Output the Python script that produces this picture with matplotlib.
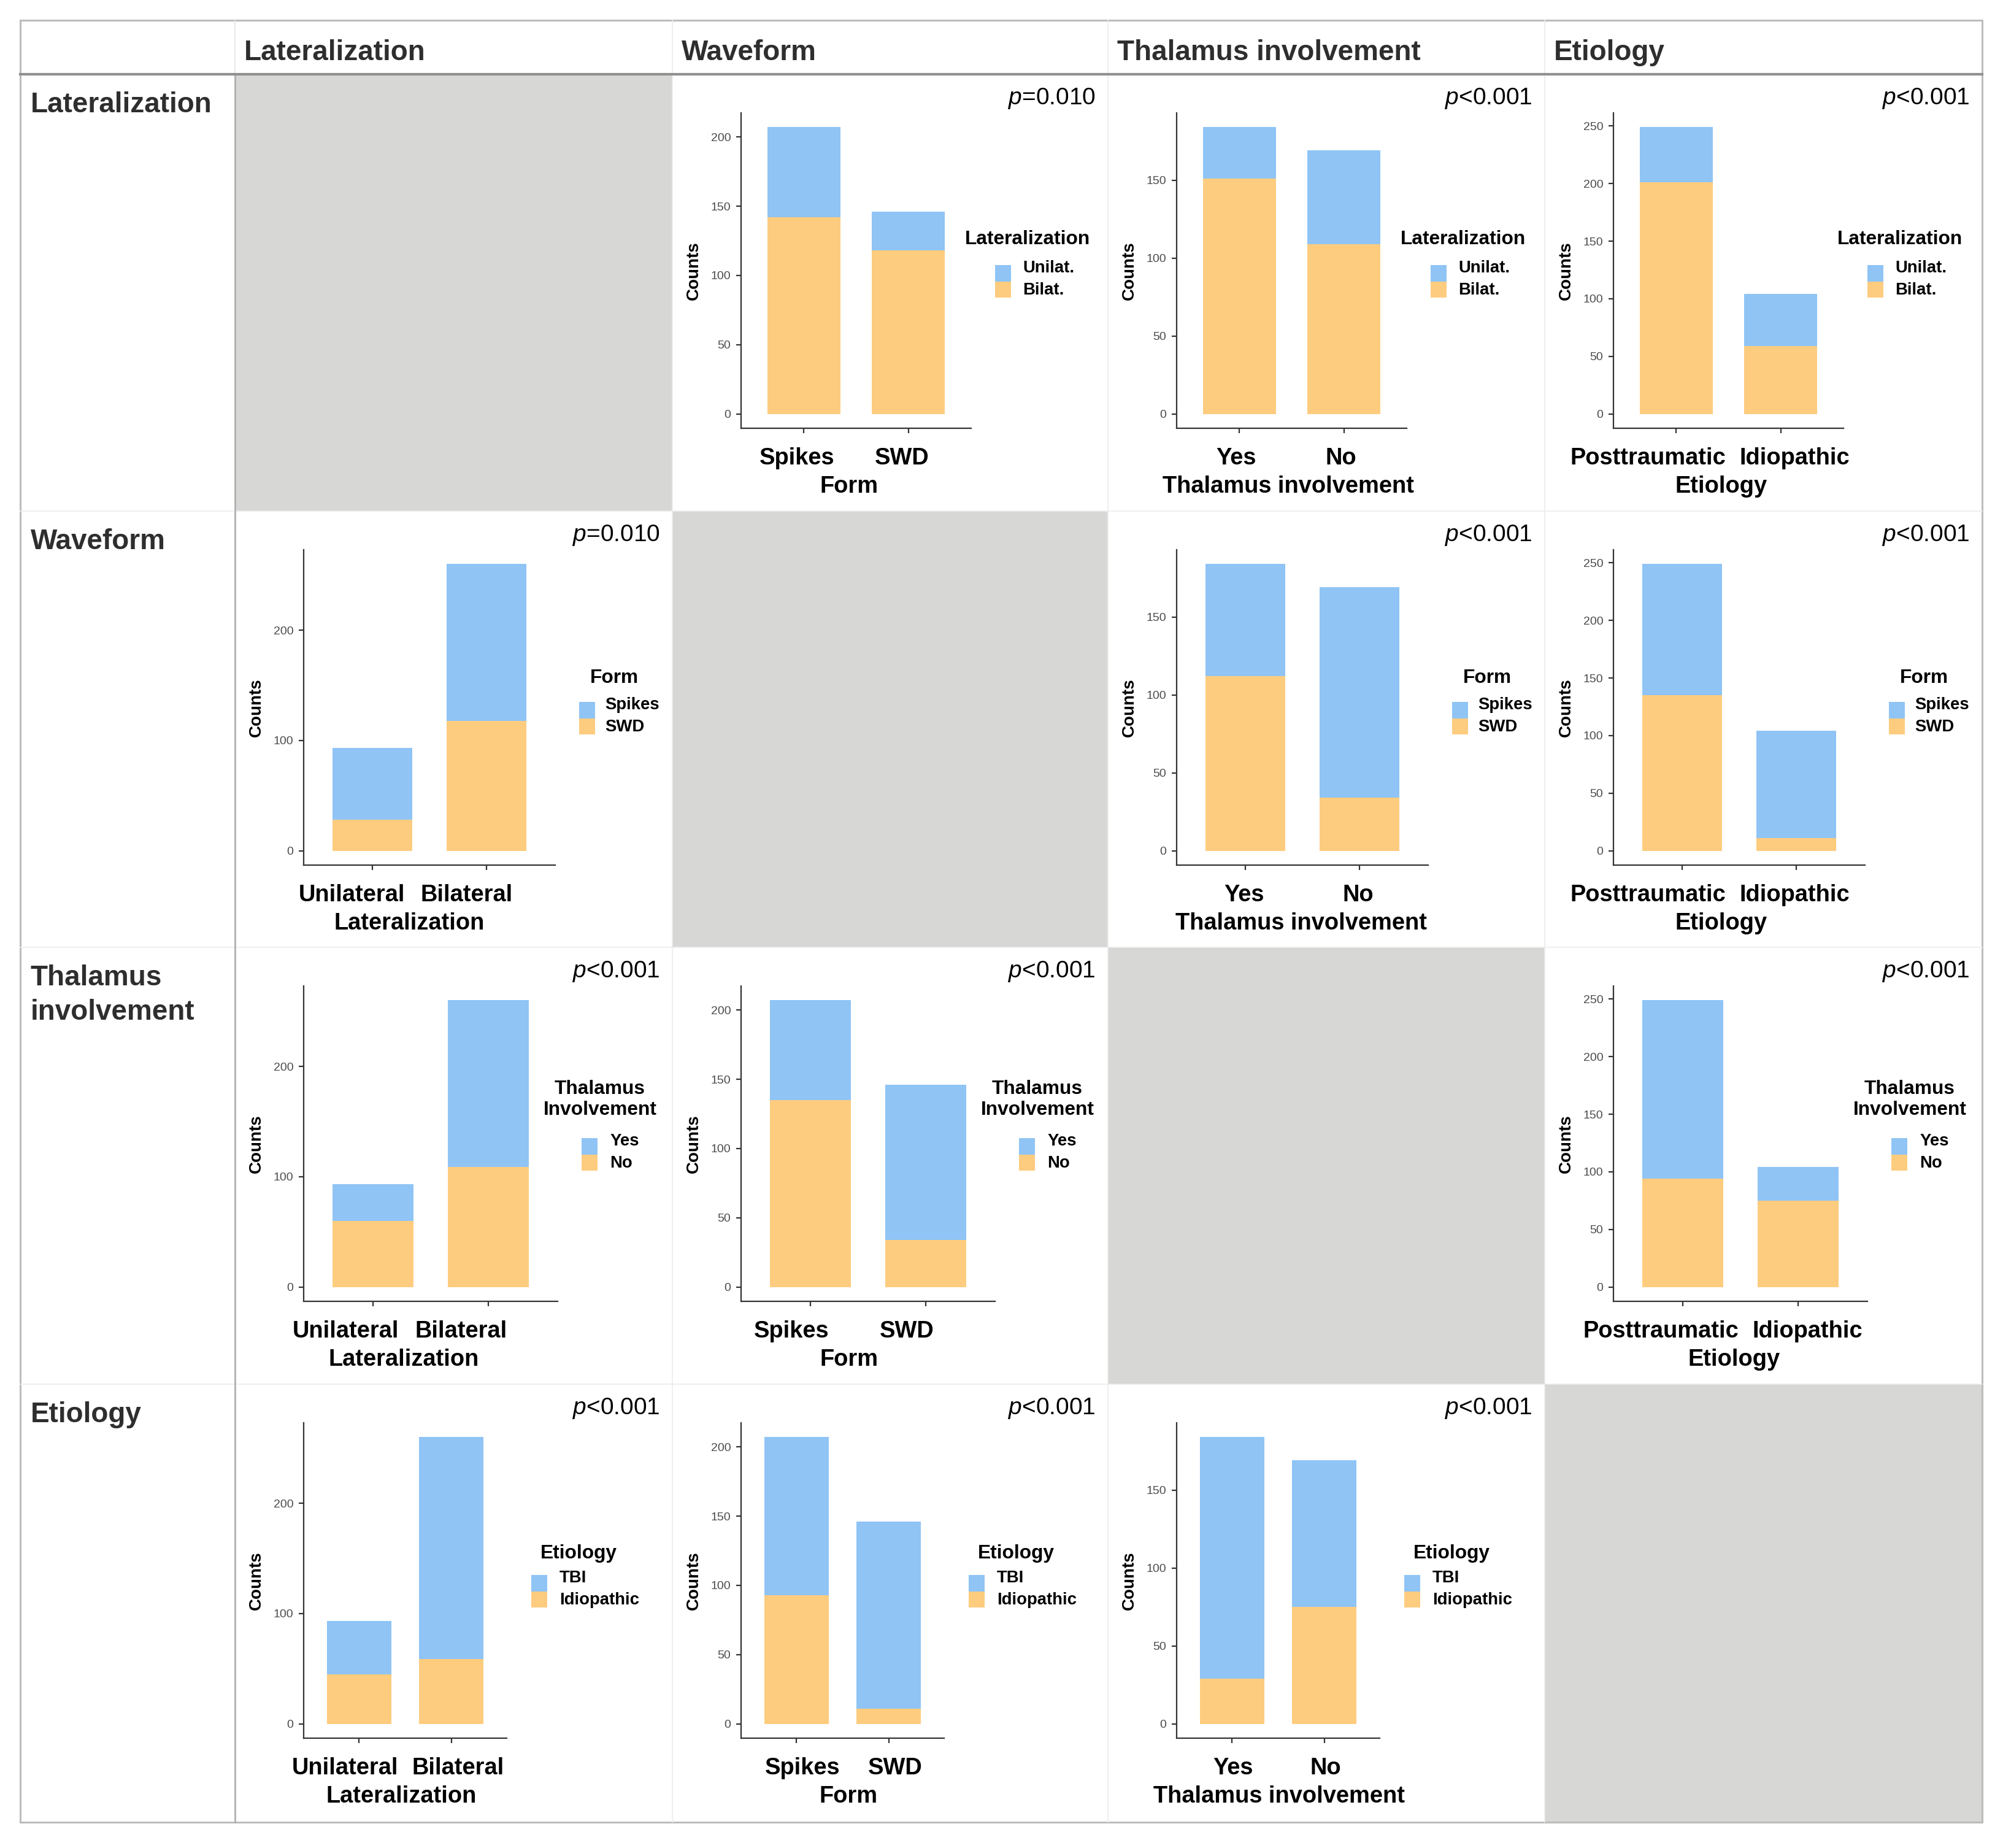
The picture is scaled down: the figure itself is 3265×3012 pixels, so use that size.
import matplotlib
matplotlib.use("Agg")
import matplotlib.pyplot as plt
from matplotlib.patches import Rectangle

plt.rcParams['font.family'] = ['Liberation Sans', 'DejaVu Sans']
plt.rcParams['mathtext.fontset'] = 'custom'
plt.rcParams['mathtext.it'] = 'Liberation Sans:italic'
plt.rcParams['mathtext.rm'] = 'Liberation Sans'

# ---- data ----
headers = ['Lateralization', 'Waveform', 'Thalamus involvement', 'Etiology']
row_headers = [['Lateralization'], ['Waveform'], ['Thalamus', 'involvement'], ['Etiology']]
x_titles = ['Lateralization', 'Form', 'Thalamus involvement', 'Etiology']
x_levels = [['Unilateral', 'Bilateral'], ['Spikes', 'SWD'], ['Yes', 'No'],
            ['Posttraumatic', 'Idiopathic']]
legend_titles = ['Lateralization', 'Form', 'Thalamus\nInvolvement', 'Etiology']
legend_levels = [['Unilat.', 'Bilat.'], ['Spikes', 'SWD'], ['Yes', 'No'],
                 ['TBI', 'Idiopathic']]

# cross tables: rows = levels of first variable, cols = levels of second
lat_form = [[65, 28], [142, 118]]
lat_thal = [[33, 60], [151, 109]]
lat_etio = [[48, 45], [201, 59]]
form_thal = [[72, 135], [112, 34]]
form_etio = [[114, 93], [135, 11]]
thal_etio = [[155, 29], [94, 75]]

p_values = [[None, '=0.010', '<0.001', '<0.001'],
            ['=0.010', None, '<0.001', '<0.001'],
            ['<0.001', '<0.001', None, '<0.001'],
            ['<0.001', '<0.001', '<0.001', None]]

tables = {(0, 1): lat_form, (0, 2): lat_thal, (0, 3): lat_etio,
          (1, 2): form_thal, (1, 3): form_etio, (2, 3): thal_etio}


def crosstab(i, j):
    if (i, j) in tables:
        return tables[(i, j)]
    t = tables[(j, i)]
    return [[t[0][0], t[1][0]], [t[0][1], t[1][1]]]


# ---- layout (pixels) ----
W, H = 3266, 3012
DPI = 200
col_edges = [33, 383, 1096, 1806, 2518, 3231]
row_edges = [33, 121, 833, 1544, 2256, 2970]
axes_w = [375, 410, 414, 331]
title_cx = [579, 618, 595, 560]
title_cy = [269, 272, 248, 276]
key_x = [526, 561, 565, 483]
label_x = [571, 603, 611, 529]
# horizontal offset of the x labels of each panel (the source panels are not centred)
label_shift = [[0, -11, -5, -12],
               [-33, 0, -2, -29],
               [-44, -31, 0, -10],
               [-6, 10, 2, 0]]

BLUE = '#8fc4f5'
ORANGE = '#fecc7f'
GREY_CELL = '#d7d7d5'
AX_COL = '#333333'

fig = plt.figure(figsize=(W / DPI, H / DPI), dpi=DPI)
renderer = fig.canvas.get_renderer()
bg = fig.add_axes([0, 0, 1, 1])
bg.set_xlim(0, W)
bg.set_ylim(H, 0)
bg.axis('off')

# gray diagonal cells
for k in range(4):
    x0, x1 = col_edges[k + 1], col_edges[k + 2]
    y0, y1 = row_edges[k + 1], row_edges[k + 2]
    bg.add_patch(Rectangle((x0, y0), x1 - x0, y1 - y0, color=GREY_CELL, lw=0))

# table lines
for x in col_edges[2:-1]:
    bg.plot([x, x], [row_edges[0], row_edges[-1]], color='#ececec', lw=0.6)
for y in row_edges[2:-1]:
    bg.plot([col_edges[0], col_edges[-1]], [y, y], color='#ececec', lw=0.6)
bg.plot([col_edges[1], col_edges[1]], [row_edges[1], row_edges[-1]], color='#b0b0b0', lw=1.0)
bg.plot([col_edges[1], col_edges[1]], [row_edges[0], row_edges[1]], color='#e4e4e4', lw=0.6)
bg.plot([col_edges[0], col_edges[-1]], [row_edges[1], row_edges[1]], color='#909090', lw=1.5)
bg.add_patch(Rectangle((col_edges[0], row_edges[0]), col_edges[-1] - col_edges[0],
                       row_edges[-1] - row_edges[0], fill=False, ec='#bcbcbc', lw=1.1))

# headers
for k, name in enumerate(headers):
    bg.text(col_edges[k + 1] + 15, 98, name, fontsize=16.5, fontweight='bold',
            color='#2e2e2e', va='baseline', ha='left')
for k, lines in enumerate(row_headers):
    for i, line in enumerate(lines):
        bg.text(50, row_edges[k + 1] + 62 + i * 56, line, fontsize=16.5, fontweight='bold',
                color='#2e2e2e', va='baseline', ha='left')

# panels
for r in range(4):
    for c in range(4):
        if r == c:
            continue
        cx0, cx1 = col_edges[c + 1], col_edges[c + 2]
        cy0 = row_edges[r + 1]
        t = crosstab(r, c)
        blue, orange = t[0], t[1]
        totals = [b + o for b, o in zip(blue, orange)]
        ymax = max(totals)
        step = 100 if ymax > 255 else 50

        left = cx0 + 112
        top = cy0 + 63
        bottom = cy0 + 577
        ax = fig.add_axes([left / W, 1 - bottom / H, axes_w[r] / W, (bottom - top) / H])
        ax.set_facecolor('none')
        xs = [0, 1]
        ax.bar(xs, orange, width=0.7, color=ORANGE, lw=0)
        ax.bar(xs, blue, width=0.7, bottom=orange, color=BLUE, lw=0)
        ax.set_xlim(-0.6, 1.6)
        ax.set_ylim(-0.05 * ymax, 1.05 * ymax)
        ax.set_yticks(list(range(0, int(1.05 * ymax) + 1, step)))
        ax.set_xticks(xs)
        ax.set_xticklabels(['', ''])
        for s in ['top', 'right']:
            ax.spines[s].set_visible(False)
        for s in ['left', 'bottom']:
            ax.spines[s].set_color(AX_COL)
            ax.spines[s].set_linewidth(0.8)
        ax.tick_params(axis='y', length=2.8, width=0.8, color=AX_COL, pad=3.2,
                       labelsize=7, labelcolor='#4d4d4d')
        ax.tick_params(axis='x', length=2.8, width=0.8, color=AX_COL)
        ax.set_ylabel('Counts', fontsize=10, fontweight='bold', labelpad=5.4)

        # x tick labels, pushed apart when they would run into each other
        dx = label_shift[r][c]
        labs = [ax.annotate(x_levels[c][i], xy=(xs[i], 0), xycoords=('data', 'axes fraction'),
                            xytext=(dx, -59), textcoords='offset pixels', ha='center',
                            va='baseline', fontsize=13.7, fontweight='bold')
                for i in range(2)]
        w0 = labs[0].get_window_extent(renderer).width
        w1 = labs[1].get_window_extent(renderer).width
        gap = axes_w[r] / 2.2 - (w0 + w1) / 2
        if gap < 22:
            shift = (22 - gap) / 2
            labs[0].xyann = (dx - shift, -59)
            labs[1].xyann = (dx + shift, -59)
        ax.annotate(x_titles[c], xy=(0.5, 0), xycoords='axes fraction', xytext=(dx, -105),
                    textcoords='offset pixels', ha='center', va='baseline',
                    fontsize=13.7, fontweight='bold')

        # p value
        bg.text(cx1 - 20, cy0 + 49, '$p$' + p_values[r][c], fontsize=14,
                ha='right', va='baseline', color='black')

        # legend
        bg.text(cx0 + title_cx[r], cy0 + title_cy[r], legend_titles[r], fontsize=11.4,
                fontweight='bold', ha='center', va='center', linespacing=1.2)
        kt = cy0 + 311
        for i, col in enumerate([BLUE, ORANGE]):
            bg.add_patch(Rectangle((cx0 + key_x[r], kt + i * 26.5), 26, 26.5, color=col, lw=0))
            bg.text(cx0 + label_x[r], kt + 5 + i * 36, legend_levels[r][i], fontsize=9.9,
                    fontweight='bold', ha='left', va='center')

fig.savefig('out.png', dpi=DPI)
